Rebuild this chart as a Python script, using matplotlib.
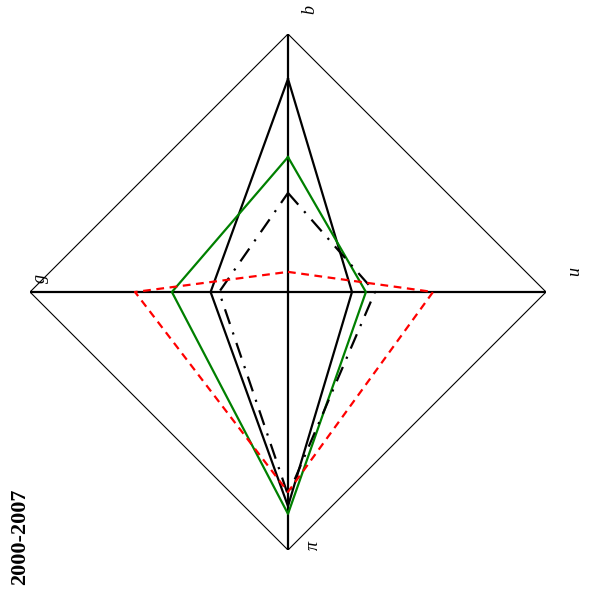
import numpy as np
import matplotlib
matplotlib.use("Agg")
import matplotlib.pyplot as plt

axes_labels = ["b", "u", "g", "π"]
angles_deg = [90, 0, 180, 270]
series_solid = [0.826, 0.248, 0.30, 0.83]
series_green = [0.523, 0.302, 0.45, 0.86]
series_dashdot = [0.384, 0.337, 0.267, 0.787]
series_red = [0.078, 0.562, 0.593, 0.775]
title_text = "2000-2007"

W, H = 593, 596
fig = plt.figure(figsize=(W / 100, H / 100), dpi=100)
cx, cy, R = 288, 292, 258
ax = fig.add_axes([(cx - R) / W, (H - cy - R) / H, 2 * R / W, 2 * R / H])
ax.set_xlim(-1, 1)
ax.set_ylim(-1, 1)
ax.set_axis_off()

theta = np.deg2rad(angles_deg)

def xy(vals):
    v = np.asarray(vals)
    x = v * np.cos(theta)
    y = v * np.sin(theta)
    order = [0, 1, 3, 2, 0]  # top, right, bottom, left
    return x[order], y[order]

# outer diamond
ox, oy = xy([1, 1, 1, 1])
ax.plot(ox, oy, color="black", lw=0.8, zorder=1)
# spokes
for t in theta:
    ax.plot([0, np.cos(t)], [0, np.sin(t)], color="black", lw=1.6, zorder=2)

x, y = xy(series_solid)
ax.plot(x, y, color="black", lw=1.6, zorder=3)
x, y = xy(series_green)
ax.plot(x, y, color="green", lw=1.6, zorder=3)
x, y = xy(series_dashdot)
ax.plot(x, y, color="black", lw=1.6, dashes=[7, 4, 1, 4], zorder=3)
x, y = xy(series_red)
ax.plot(x, y, color="red", lw=1.6, dashes=[3.5, 2.5], zorder=4)

# axis labels (pixel offsets from the axis end, rotated)
offsets = [(22, -282), (287, -20), (-248, -14), (25, 253)]
for lab, (dx, dy) in zip(axes_labels, offsets):
    fig.text((cx + dx) / W, (H - (cy + dy)) / H, lab, rotation=90,
             fontsize=13, family="Liberation Serif", style="italic",
             ha="center", va="center")

fig.text(20 / W, (H - 537) / H, title_text, rotation=90, fontsize=16,
         family="Liberation Serif", weight="bold", ha="center", va="center")

fig.savefig("out.png", dpi=100)
